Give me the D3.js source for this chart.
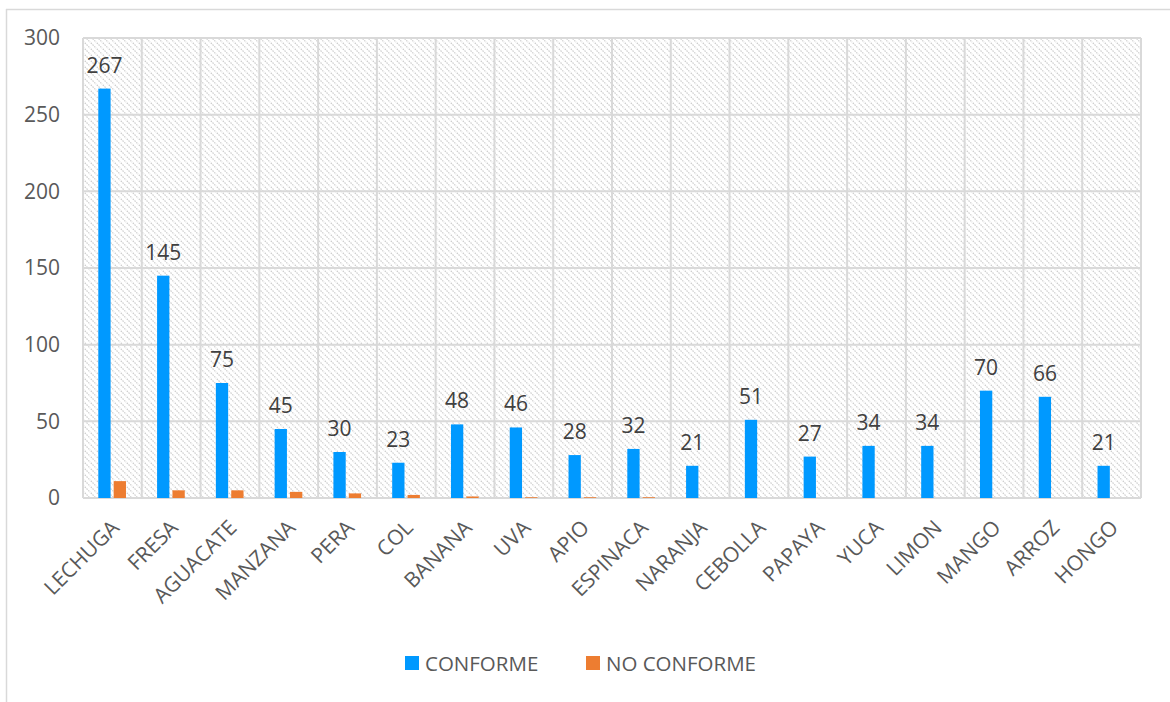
<!DOCTYPE html>
<html>
<head>
<meta charset="utf-8">
<script src="https://cdn.jsdelivr.net/npm/d3@7"></script>
<style>
  html, body { margin: 0; padding: 0; background: #ffffff; }
  svg { display: block; font-family: "Open Sans", "Noto Sans", sans-serif; }
</style>
</head>
<body>
<svg id="chart" width="1170" height="702"></svg>
<script>
// Products inspected and results per product
const categories = ["LECHUGA", "FRESA", "AGUACATE", "MANZANA", "PERA", "COL", "BANANA", "UVA", "APIO",
  "ESPINACA", "NARANJA", "CEBOLLA", "PAPAYA", "YUCA", "LIMON", "MANGO", "ARROZ", "HONGO"];
const conforme = [267, 145, 75, 45, 30, 23, 48, 46, 28, 32, 21, 51, 27, 34, 34, 70, 66, 21];
const noConforme = [11, 5, 5, 4, 3, 2, 1, 0.5, 0.5, 0.5, 0, 0, 0, 0, 0, 0, 0, 0];
const yTicks = [0, 50, 100, 150, 200, 250, 300];
const seriesNames = ["CONFORME", "NO CONFORME"];
const seriesColors = ["#0099ff", "#ed7d31"];

const svg = d3.select("#chart");
const W = 1170, H = 702;
const plot = { left: 83, right: 1141, top: 38, bottom: 498 };

// Outer chart frame (top and left edges visible)
svg.append("line").attr("x1", 6).attr("x2", W).attr("y1", 9.5).attr("y2", 9.5)
  .attr("stroke", "#d9d9d9").attr("stroke-width", 1.5);
svg.append("line").attr("x1", 6.5).attr("x2", 6.5).attr("y1", 9).attr("y2", H)
  .attr("stroke", "#d9d9d9").attr("stroke-width", 1.5);

// Diagonal hatch fill for plot area
const defs = svg.append("defs");
const pat = defs.append("pattern").attr("id", "hatch").attr("patternUnits", "userSpaceOnUse")
  .attr("width", 6).attr("height", 6);
pat.append("rect").attr("width", 6).attr("height", 6).attr("fill", "#ffffff");
pat.append("path").attr("d", "M-1,-1 L7,7 M-1,5 L1,7 M5,-1 L7,1")
  .attr("stroke", "#cdcdcd").attr("stroke-width", 1.2).attr("stroke-dasharray", "1.5,1");

const x = d3.scaleBand().domain(categories).range([plot.left, plot.right]).paddingInner(0).paddingOuter(0);
const y = d3.scaleLinear().domain([0, 300]).range([plot.bottom, plot.top]);
const sub = d3.scaleBand().domain(seriesNames).range([15.3, x.bandwidth() - 15.8]).paddingInner(0.2);

svg.append("rect").attr("x", plot.left).attr("y", plot.top)
  .attr("width", plot.right - plot.left).attr("height", plot.bottom - plot.top)
  .attr("fill", "url(#hatch)");

// Gridlines: horizontal at value ticks, vertical at category boundaries
const grid = svg.append("g").attr("stroke", "#d9d9d9").attr("stroke-width", 2);
grid.selectAll("line.h").data(yTicks).join("line").attr("class", "h")
  .attr("x1", plot.left).attr("x2", plot.right)
  .attr("y1", d => y(d)).attr("y2", d => y(d));
const bounds = categories.map(c => x(c)).concat([plot.right]);
grid.selectAll("line.v").data(bounds).join("line").attr("class", "v")
  .attr("x1", d => d).attr("x2", d => d)
  .attr("y1", plot.top).attr("y2", plot.bottom);

// Bars
const rows = categories.map((c, i) => ({ c, vals: [conforme[i], noConforme[i]] }));
const groups = svg.append("g").selectAll("g").data(rows).join("g")
  .attr("transform", d => `translate(${x(d.c)},0)`);
groups.selectAll("rect").data(d => d.vals.map((v, j) => ({ v, s: seriesNames[j], j })))
  .join("rect")
  .attr("x", d => sub(d.s)).attr("width", sub.bandwidth())
  .attr("y", d => y(d.v)).attr("height", d => y(0) - y(d.v))
  .attr("fill", d => seriesColors[d.j]);

// Value labels above CONFORME bars
groups.append("text")
  .attr("x", sub(seriesNames[0]) + sub.bandwidth() / 2)
  .attr("y", d => y(d.vals[0]) - 16)
  .attr("text-anchor", "middle")
  .attr("font-size", 21).attr("fill", "#404040")
  .text(d => d.vals[0]);

// Y axis labels
const yAxis = d3.axisLeft(y).tickValues(yTicks).tickSize(0).tickPadding(0);
const gy = svg.append("g").attr("transform", `translate(60,0)`).call(yAxis);
gy.select(".domain").remove();
gy.selectAll("text").attr("font-size", 21).attr("fill", "#595959")
  .attr("font-family", "'Open Sans', sans-serif");

// X axis labels, rotated
const xAxis = d3.axisBottom(x).tickSize(0).tickPadding(0);
const gx = svg.append("g").attr("transform", `translate(0,${plot.bottom})`).call(xAxis);
gx.select(".domain").remove();
gx.selectAll("text")
  .attr("font-size", 21).attr("fill", "#595959").attr("font-family", "'Open Sans', sans-serif")
  .attr("text-anchor", "end").attr("dy", null).attr("y", 0)
  .attr("transform", "translate(8,31) rotate(-45)");

// Legend
const legendItems = [{ x: 405, name: seriesNames[0], color: seriesColors[0] },
  { x: 586, name: seriesNames[1], color: seriesColors[1] }];
const lg = svg.append("g").selectAll("g").data(legendItems).join("g")
  .attr("transform", d => `translate(${d.x},656)`);
lg.append("rect").attr("width", 14).attr("height", 14).attr("fill", d => d.color);
lg.append("text").attr("x", 20).attr("y", 14.5).attr("font-size", 20.5).attr("fill", "#595959")
  .text(d => d.name);
</script>
</body>
</html>
